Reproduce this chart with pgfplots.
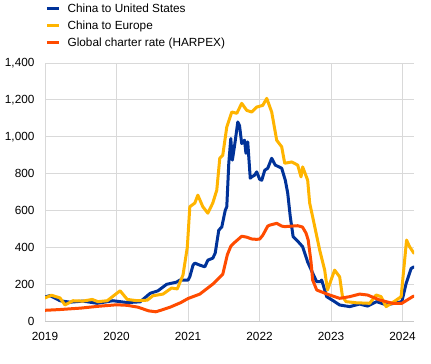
\documentclass[border=0pt]{standalone}
\usepackage{pgfplots}
\pgfplotsset{compat=1.18}
\usepackage{fontspec}
\setmainfont{Liberation Sans}
\definecolor{ecbblue}{RGB}{0,50,153}
\definecolor{ecbyellow}{RGB}{255,180,0}
\definecolor{ecborange}{RGB}{255,75,0}
\definecolor{gridgray}{RGB}{217,217,217}
\definecolor{axisgray}{RGB}{200,200,200}
\begin{document}
\begin{tikzpicture}
\path[use as bounding box] (0,0) rectangle (431pt,364pt);
\begin{axis}[
  at={(45pt,43pt)}, anchor=south west,
  scale only axis, width=369pt, height=258pt,
  xmin=2019, xmax=2024.16, ymin=0, ymax=1400,
  xtick={2019,2020,2021,2022,2023,2024},
  ytick={0,200,400,600,800,1000,1200,1400},
  axis x line*=bottom, axis y line*=left,
  x axis line style={draw=axisgray, line width=0.8pt, -},
  y axis line style={draw=gridgray, line width=0.8pt, -},
  major tick length=0pt, tick style={draw=none},
  xmajorgrids, ymajorgrids,
  major grid style={draw=gridgray, line width=0.8pt},
  /pgf/number format/assume math mode=true,
  tick label style={font=\fontsize{11.8}{14}\selectfont},
  yticklabel style={/pgf/number format/1000 sep={,}, xshift=-7pt},
  xticklabel style={/pgf/number format/1000 sep={}, yshift=-8pt},
  legend style={at={(0,1)}, anchor=south west, yshift=16pt, xshift=0pt,
    draw=none, fill=none, inner sep=0pt, outer sep=0pt, row sep=8pt,
    nodes={inner sep=0pt, text height=8.6pt, text depth=0.4pt, font=\fontsize{11.8}{14}\selectfont},
    /tikz/every odd column/.append style={column sep=6.5pt}},
  legend cell align=left,
  legend image code/.code={\draw[line width=3.6pt, line cap=butt] (0pt,0pt) -- (12.5pt,0pt);},
  every axis plot/.append style={line width=3pt, line join=round, line cap=round},
]
\addplot[ecbblue] coordinates {
(2019.0,130)(2019.07,138)(2019.21,110)(2019.35,102)(2019.53,108)(2019.73,96)
(2019.95,110)(2020.15,100)(2020.33,104)(2020.47,150)(2020.58,164)(2020.70,199)
(2020.84,211)(2020.885,222)(2021.0,222)(2021.025,240)(2021.07,303)(2021.095,314)
(2021.165,303)(2021.235,294)(2021.277,330)(2021.346,341)(2021.38,368)(2021.43,493)
(2021.472,510)(2021.52,600)(2021.542,620)(2021.570,856)(2021.598,990)(2021.62,873)
(2021.654,960)(2021.696,1080)(2021.72,1060)(2021.751,963)(2021.79,981)(2021.81,910)
(2021.835,972)(2021.87,775)(2021.891,782)(2021.93,791)(2021.961,809)(2022.0,770)
(2022.031,764)(2022.073,818)(2022.115,829)(2022.17,883)(2022.22,846)(2022.31,829)
(2022.36,764)(2022.394,694)(2022.43,565)(2022.47,457)(2022.52,439)(2022.603,403)
(2022.673,320)(2022.743,260)(2022.799,213)(2022.85,213)(2022.869,222)(2022.939,132)
(2023.05,105)(2023.12,87)(2023.26,78)(2023.40,92)(2023.51,81)(2023.637,105)
(2023.777,87)(2023.916,99)(2023.99,105)(2024.05,204)(2024.12,285)(2024.16,294)
};
\addlegendentry{China to United States}
\addplot[ecbyellow] coordinates {
(2019.0,125)(2019.09,140)(2019.21,125)(2019.28,87)(2019.39,110)(2019.53,108)
(2019.66,117)(2019.74,105)(2019.87,110)(2020.05,164)(2020.15,117)(2020.29,110)
(2020.43,113)(2020.51,137)(2020.65,146)(2020.77,179)(2020.85,174)(2020.93,250)
(2020.99,400)(2021.025,620)(2021.095,640)(2021.137,683)(2021.207,620)(2021.277,585)
(2021.346,640)(2021.402,710)(2021.444,883)(2021.486,900)(2021.542,1053)(2021.612,1134)
(2021.682,1127)(2021.751,1181)(2021.821,1143)(2021.891,1134)(2021.961,1161)(2022.045,1170)
(2022.101,1208)(2022.17,1134)(2022.24,981)(2022.31,945)(2022.352,856)(2022.45,863)
(2022.534,846)(2022.58,782)(2022.603,836)(2022.673,764)(2022.701,640)(2022.743,565)
(2022.841,385)(2022.911,276)(2022.95,168)(2023.05,276)(2023.12,240)(2023.16,132)
(2023.21,105)(2023.35,99)(2023.54,96)(2023.63,141)(2023.70,132)(2023.77,78)
(2023.88,105)(2023.98,132)(2024.056,439)(2024.098,403)(2024.16,367)
};
\addlegendentry{China to Europe}
\addplot[ecborange] coordinates {
(2019.0,58)(2019.2,62)(2019.5,70)(2019.75,80)(2020.0,88)(2020.15,85)(2020.3,75)
(2020.45,55)(2020.55,50)(2020.65,62)(2020.75,75)(2020.9,100)(2021.0,122)
(2021.165,146)(2021.346,200)(2021.486,254)(2021.55,360)(2021.6,407)(2021.654,427)
(2021.751,460)(2021.82,455)(2021.891,445)(2021.961,443)(2022.003,445)(2022.045,465)
(2022.115,515)(2022.142,520)(2022.24,530)(2022.31,515)(2022.352,512)(2022.45,515)
(2022.534,517)(2022.6,510)(2022.65,477)(2022.68,440)(2022.72,320)(2022.743,222)
(2022.80,168)(2022.98,141)(2023.12,123)(2023.26,132)(2023.40,146)(2023.51,141)
(2023.68,114)(2023.86,96)(2023.99,96)(2024.14,132)(2024.16,135)
};
\addlegendentry{Global charter rate (HARPEX)}
\end{axis}
\end{tikzpicture}
\end{document}
